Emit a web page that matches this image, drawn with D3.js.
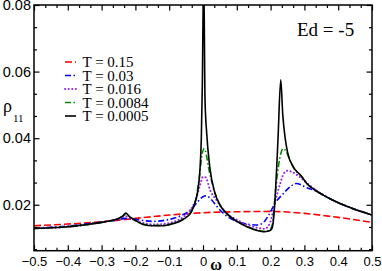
<!DOCTYPE html>
<html>
<head>
<meta charset="utf-8">
<script src="https://cdn.jsdelivr.net/npm/d3@7"></script>
<style>
  body { margin: 0; background: #fff; }
  svg { display: block; font-family: "Liberation Serif", "DejaVu Serif", serif; }
  .axis path { display: none; }
  .axis line { stroke: #000; stroke-width: 1.2px; }
  .axis text { fill: #000; }
</style>
</head>
<body>
<div class="main"></div>
<script>
// series: omega values and rho_11 values
const omegaRed = [-0.5, -0.4, -0.3, -0.2, -0.1, 0, 0.1, 0.2, 0.3, 0.4, 0.5];
const rhoRed   = [0.0137, 0.0142, 0.0149, 0.0159, 0.0169, 0.0176, 0.0179, 0.0180, 0.0174, 0.0162, 0.0147];

const omegaBlue = [-0.5, -0.4, -0.3, -0.25, -0.23, -0.2, -0.15, -0.1, -0.07, -0.038, -0.015, 0.0, 0.01, 0.025, 0.04, 0.07, 0.1, 0.13, 0.16, 0.18, 0.195, 0.213, 0.238, 0.26, 0.277, 0.29, 0.305, 0.33, 0.356, 0.38, 0.405, 0.43, 0.455, 0.48, 0.5];
const rhoBlue   = [0.0130, 0.0136, 0.0148, 0.0155, 0.0159, 0.0156, 0.0150, 0.0156, 0.0165, 0.0184, 0.0210, 0.0224, 0.0227, 0.0215, 0.0196, 0.0166, 0.0150, 0.0142, 0.0139, 0.0148, 0.0170, 0.0204, 0.0234, 0.0256, 0.0264, 0.0260, 0.0252, 0.0243, 0.0229, 0.0216, 0.0204, 0.0194, 0.0184, 0.0176, 0.0169];

const omegaPurple = [-0.5, -0.4, -0.3, -0.25, -0.228, -0.21, -0.18, -0.15, -0.12, -0.09, -0.06, -0.04, -0.019, -0.008, 0.0, 0.008, 0.021, 0.04, 0.07, 0.1, 0.13, 0.16, 0.183, 0.198, 0.208, 0.22, 0.228, 0.238, 0.25, 0.265, 0.28, 0.3, 0.32, 0.356, 0.38, 0.405, 0.43, 0.455, 0.48, 0.5];
const rhoPurple   = [0.0129, 0.0134, 0.0147, 0.0158, 0.0165, 0.0157, 0.0146, 0.0141, 0.0142, 0.0148, 0.0162, 0.0180, 0.0222, 0.0262, 0.0284, 0.0282, 0.0244, 0.0214, 0.0174, 0.0155, 0.0140, 0.0131, 0.0128, 0.0145, 0.0184, 0.0235, 0.0262, 0.0292, 0.0302, 0.0298, 0.0288, 0.0272, 0.0255, 0.0229, 0.0216, 0.0204, 0.0194, 0.0184, 0.0176, 0.0169];

const omegaGreen = [-0.5, -0.4, -0.3, -0.25, -0.238, -0.228, -0.215, -0.2, -0.18, -0.15, -0.12, -0.09, -0.06, -0.035, -0.02, -0.01, -0.003, 0.004, 0.01, 0.016, 0.03, 0.045, 0.06, 0.08, 0.1, 0.13, 0.16, 0.18, 0.195, 0.205, 0.213, 0.223, 0.232, 0.238, 0.245, 0.257, 0.27, 0.29, 0.307, 0.33, 0.356, 0.38, 0.405, 0.43, 0.455, 0.48, 0.5];
const rhoGreen   = [0.0129, 0.0134, 0.0147, 0.0159, 0.0165, 0.0171, 0.0162, 0.0152, 0.0143, 0.0138, 0.0138, 0.0144, 0.0157, 0.0180, 0.0222, 0.0290, 0.0350, 0.0369, 0.0350, 0.0314, 0.0254, 0.0210, 0.0184, 0.0164, 0.0151, 0.0135, 0.0124, 0.0120, 0.0123, 0.0140, 0.0224, 0.0314, 0.0360, 0.0369, 0.0362, 0.0334, 0.0308, 0.0287, 0.0264, 0.0245, 0.0229, 0.0216, 0.0204, 0.0194, 0.0184, 0.0176, 0.0169];

const omegaBlack = [-0.5, -0.45, -0.4, -0.35, -0.3, -0.275, -0.25, -0.238, -0.228, -0.22, -0.206, -0.19, -0.177, -0.15, -0.12, -0.09, -0.06, -0.035, -0.024, -0.015, -0.009, -0.005, -0.002, 0.002, 0.006, 0.011, 0.02, 0.035, 0.05, 0.07, 0.1, 0.13, 0.16, 0.18, 0.195, 0.203, 0.208, 0.213, 0.218, 0.222, 0.23, 0.236, 0.2426, 0.25, 0.267, 0.29, 0.307, 0.33, 0.356, 0.38, 0.405, 0.43, 0.455, 0.48, 0.5];
const rhoBlack   = [0.0129, 0.0131, 0.0134, 0.0140, 0.0147, 0.0152, 0.0159, 0.0166, 0.0175, 0.0167, 0.0157, 0.0147, 0.0141, 0.0137, 0.0137, 0.0143, 0.0155, 0.0177, 0.0205, 0.0245, 0.0305, 0.0400, 0.0560, 0.0900, 0.0515, 0.0414, 0.0314, 0.0236, 0.0200, 0.0174, 0.0150, 0.0134, 0.0123, 0.0119, 0.0121, 0.0127, 0.0150, 0.0214, 0.0310, 0.0400, 0.0575, 0.0470, 0.0404, 0.0358, 0.0314, 0.0287, 0.0264, 0.0245, 0.0229, 0.0216, 0.0204, 0.0194, 0.0184, 0.0176, 0.0169];

const seriesNames = ["T = 0.15", "T = 0.03", "T = 0.016", "T = 0.0084", "T = 0.0005"];
const xTickValues = [-0.5, -0.4, -0.3, -0.2, -0.1, 0, 0.1, 0.2, 0.3, 0.4, 0.5];
const yTickValues = [0.02, 0.04, 0.06, 0.08];

const svgWidth = 382,
    svgHeight = 271,
    plot = {left: 34, right: 372, top: 5, bottom: 250.7};

const series = [
  {name: seriesNames[0], omega: omegaRed, rho: rhoRed, color: "#ff0000", dash: "7,3", width: 1.6, cap: "butt"},
  {name: seriesNames[1], omega: omegaBlue, rho: rhoBlue, color: "#0000ff", dash: "6,2.5,1.5,2.5", width: 1.6, cap: "butt"},
  {name: seriesNames[2], omega: omegaPurple, rho: rhoPurple, color: "#a020f0", dash: "0.1,3.5", width: 2, cap: "round"},
  {name: seriesNames[3], omega: omegaGreen, rho: rhoGreen, color: "#008b00", dash: "6,2.5,1.5,2.5", width: 1.6, cap: "butt"},
  {name: seriesNames[4], omega: omegaBlack, rho: rhoBlack, color: "#000000", dash: null, width: 1.6, cap: "butt"}
];

let x = d3.scaleLinear().domain([-0.5, 0.5]).range([plot.left, plot.right]),
    y = d3.scaleLinear().domain([0.0062, 0.08]).range([plot.bottom, plot.top]);

let svg = d3.select("body>.main").append("svg")
    .attr("width", svgWidth)
    .attr("height", svgHeight);

svg.append("rect").attr("width", svgWidth).attr("height", svgHeight).style("fill", "#fff");

svg.append("clipPath").attr("id", "clip")
  .append("rect")
    .attr("x", plot.left).attr("y", plot.top)
    .attr("width", plot.right - plot.left).attr("height", plot.bottom - plot.top);

// curves
let line = d3.line()
    .x(d => x(d[0]))
    .y(d => y(d[1]))
    .curve(d3.curveMonotoneX);

svg.append("g").attr("clip-path", "url(#clip)")
  .selectAll("path")
  .data(series)
  .enter().append("path")
    .attr("d", s => line(s.omega.map((w, i) => [w, s.rho[i]])))
    .style("fill", "none")
    .style("stroke", s => s.color)
    .style("stroke-width", s => s.width)
    .style("stroke-dasharray", s => s.dash)
    .style("stroke-linecap", s => s.cap)
    .style("stroke-linejoin", "round");

// ticks, all pointing inwards
const major = 5.5, minor = 3;
const xMinor = d3.range(-15, 16).map(i => i / 30).filter(v => Math.abs(v * 10 - Math.round(v * 10)) > 1e-6);
const yMinor = d3.range(1, 12).map(i => i * 0.02 / 3).filter(v => Math.abs(v * 50 - Math.round(v * 50)) > 1e-6 && v > 0.0062);

svg.append("g").attr("class", "x axis")
    .attr("transform", "translate(0," + plot.bottom + ")")
    .call(d3.axisBottom(x).tickValues(xTickValues).tickSize(-major).tickPadding(6)
      .tickFormat(d => d3.format("")(+d.toFixed(1)).replace("-", "-")))
    .selectAll("text").style("font-size", "13px");
svg.append("g").attr("class", "axis")
    .attr("transform", "translate(0," + plot.bottom + ")")
    .call(d3.axisBottom(x).tickValues(xMinor).tickSize(-minor).tickFormat(""));
svg.append("g").attr("class", "axis")
    .attr("transform", "translate(0," + plot.top + ")")
    .call(d3.axisTop(x).tickValues(xTickValues).tickSize(-major).tickFormat(""));
svg.append("g").attr("class", "axis")
    .attr("transform", "translate(0," + plot.top + ")")
    .call(d3.axisTop(x).tickValues(xMinor).tickSize(-minor).tickFormat(""));

svg.append("g").attr("class", "y axis")
    .attr("transform", "translate(" + plot.left + ",0)")
    .call(d3.axisLeft(y).tickValues(yTickValues).tickSize(-major).tickPadding(3).tickFormat(d3.format(".2f")))
    .selectAll("text").style("font-size", "14.5px");
svg.append("g").attr("class", "axis")
    .attr("transform", "translate(" + plot.left + ",0)")
    .call(d3.axisLeft(y).tickValues(yMinor).tickSize(-minor).tickFormat(""));
svg.append("g").attr("class", "axis")
    .attr("transform", "translate(" + plot.right + ",0)")
    .call(d3.axisRight(y).tickValues(yTickValues).tickSize(-major).tickFormat(""));
svg.append("g").attr("class", "axis")
    .attr("transform", "translate(" + plot.right + ",0)")
    .call(d3.axisRight(y).tickValues(yMinor).tickSize(-minor).tickFormat(""));

// frame
svg.append("rect")
    .attr("x", plot.left).attr("y", plot.top)
    .attr("width", plot.right - plot.left).attr("height", plot.bottom - plot.top)
    .style("fill", "none").style("stroke", "#000").style("stroke-width", 1.5);

// axis titles
let yLabel = svg.append("text").attr("x", 3).attr("y", 112).style("font-size", "18px");
yLabel.append("tspan").text("ρ");
yLabel.append("tspan").attr("dy", 10).attr("dx", 1).style("font-size", "11px").text("11");

svg.append("text")
    .attr("x", 216).attr("y", 269.5)
    .attr("text-anchor", "middle")
    .style("font-size", "16px")
    .style("font-weight", "bold")
    .text("ω");

svg.append("text")
    .attr("x", 297).attr("y", 36)
    .style("font-size", "19px")
    .text("Ed = -5");

// legend
const legendTop = 62, legendStep = 13.5;
let legend = svg.append("g").attr("class", "legend")
  .selectAll(".legend__item")
  .data(series)
  .enter().append("g")
    .attr("class", "legend__item")
    .attr("transform", (d, i) => "translate(65," + (legendTop + i * legendStep) + ")");

legend.append("line")
    .attr("x1", 0).attr("x2", 11)
    .style("stroke", d => d.color)
    .style("stroke-width", d => d.width)
    .style("stroke-dasharray", d => d.dash)
    .style("stroke-linecap", d => d.cap);

legend.append("text")
    .attr("x", 17.5)
    .attr("dy", ".35em")
    .style("font-size", "15px")
    .text(d => d.name);
</script>
</body>
</html>
